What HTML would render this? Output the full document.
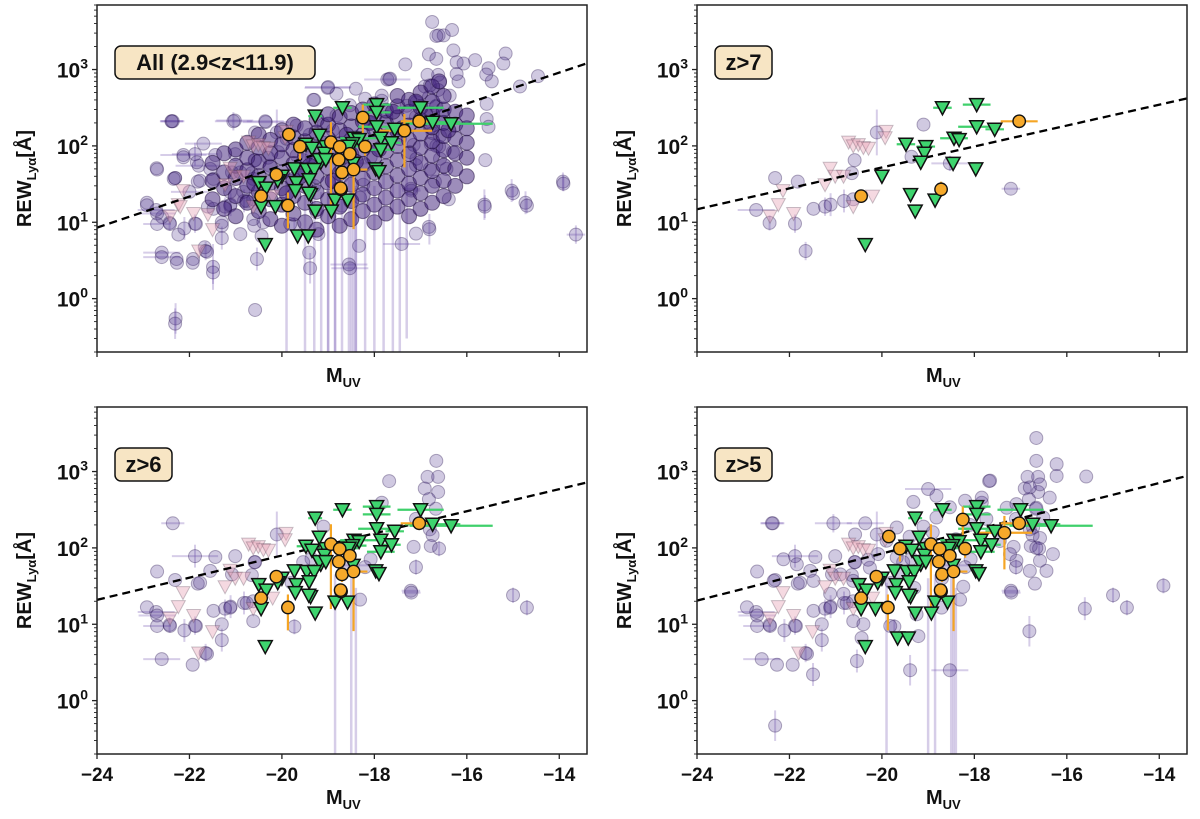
<!DOCTYPE html>
<html><head><meta charset="utf-8">
<style>
html,body{margin:0;padding:0;background:#fff;}
svg{display:block;font-family:"Liberation Sans","DejaVu Sans",sans-serif;}
</style></head>
<body>
<svg id="chart" width="1200" height="819" viewBox="0 0 1200 819" xmlns="http://www.w3.org/2000/svg"></svg>
<script>
// ---------------- DATA ----------------
const panelLabels = ["All (2.9<z<11.9)", "z>7", "z>6", "z>5"];
const panelZmin = [0, 7, 6, 5];
const fitIntercept = [0.93, 1.17, 1.32, 1.31];   // log10 EW at M=-24
const fitSlope = [0.203, 0.137, 0.145, 0.154];    // dex per mag
const xTicks = [-24, -22, -20, -18, -16, -14];
const yDecades = [0, 1, 2, 3];

// purple detections: [M, EW, z, xerr(mag), yerr(dex)]
const purpleLo = [
[-21.5,20,4],[-21.5,35,4],[-21.5,60,4],
[-21.25,15,4],[-21.25,28,4],[-21.25,45,4],[-21.25,80,4],
[-21.0,12,4],[-21.0,22,4],[-21.0,38,4],[-21.0,55,4],[-21.0,90,4],
[-20.75,18,4],[-20.75,30,4],[-20.75,48,4],[-20.75,70,4],[-20.75,110,4],
[-20.5,14,4],[-20.5,25,4],[-20.5,40,4],[-20.5,62,4],[-20.5,95,4],[-20.5,140,4],
[-20.25,11,4],[-20.25,20,4],[-20.25,33,4],[-20.25,52,4],[-20.25,80,4],[-20.25,120,4],
[-20.0,9,4],[-20.0,17,4],[-20.0,28,4],[-20.0,45,4],[-20.0,70,4],[-20.0,105,4],[-20.0,160,4],
[-19.75,13,4],[-19.75,22,4],[-19.75,36,4],[-19.75,58,4],[-19.75,88,4],[-19.75,130,4],[-19.75,190,4],
[-19.5,10,4],[-19.5,18,4],[-19.5,30,4],[-19.5,48,4],[-19.5,75,4],[-19.5,115,4],[-19.5,170,4],
[-19.25,8,4],[-19.25,15,4],[-19.25,25,4],[-19.25,40,4],[-19.25,62,4],[-19.25,95,4],[-19.25,150,4],[-19.25,220,4],
[-19.0,12,4],[-19.0,20,4],[-19.0,33,4],[-19.0,52,4],[-19.0,80,4],[-19.0,125,4],[-19.0,190,4],[-19.0,260,4],
[-18.75,9,4],[-18.75,16,4],[-18.75,27,4],[-18.75,44,4],[-18.75,68,4],[-18.75,105,4],[-18.75,160,4],[-18.75,240,4],
[-18.5,11,4],[-18.5,19,4],[-18.5,31,4],[-18.5,50,4],[-18.5,78,4],[-18.5,120,4],[-18.5,180,4],[-18.5,270,4],
[-18.25,14,4],[-18.25,23,4],[-18.25,37,4],[-18.25,58,4],[-18.25,90,4],[-18.25,140,4],[-18.25,210,4],[-18.25,300,4],
[-18.0,10,4],[-18.0,17,4],[-18.0,28,4],[-18.0,45,4],[-18.0,70,4],[-18.0,108,4],[-18.0,165,4],[-18.0,250,4],[-18.0,350,4],
[-17.75,13,4],[-17.75,21,4],[-17.75,34,4],[-17.75,54,4],[-17.75,85,4],[-17.75,130,4],[-17.75,200,4],[-17.75,290,4],
[-17.5,16,4],[-17.5,26,4],[-17.5,41,4],[-17.5,65,4],[-17.5,100,4],[-17.5,155,4],[-17.5,235,4],[-17.5,330,4],[-17.5,450,4],
[-17.25,12,4],[-17.25,20,4],[-17.25,32,4],[-17.25,50,4],[-17.25,78,4],[-17.25,120,4],[-17.25,185,4],[-17.25,280,4],[-17.25,400,4],
[-17.0,15,4],[-17.0,24,4],[-17.0,38,4],[-17.0,60,4],[-17.0,95,4],[-17.0,145,4],[-17.0,220,4],[-17.0,320,4],[-17.0,500,4],
[-16.75,18,4],[-16.75,30,4],[-16.75,47,4],[-16.75,75,4],[-16.75,115,4],[-16.75,175,4],[-16.75,260,4],[-16.75,380,4],[-16.75,600,4],
[-16.5,22,4],[-16.5,35,4],[-16.5,55,4],[-16.5,88,4],[-16.5,135,4],[-16.5,200,4],[-16.5,300,4],[-16.5,450,4],
[-16.25,30,4],[-16.25,50,4],[-16.25,80,4],[-16.25,125,4],[-16.25,190,4],[-16.25,280,4],
[-16.0,40,4],[-16.0,70,4],[-16.0,110,4],[-16.0,170,4],[-16.0,250,4],
[-19.9,24,4],[-19.6,40,4],[-19.1,70,4],[-18.6,140,4],[-18.1,200,4],[-17.6,280,4],[-17.1,380,4],[-16.6,700,4],
[-20.6,32,4],[-19.4,55,4],[-18.9,35,4],[-18.4,62,4],[-17.9,90,4],[-17.4,170,4],[-16.9,260,4],[-16.4,160,4],
[-22.39,210,4,0.25,0],[-21.02,215,4,0.4,0],[-20.35,205,4,0.5,0],[-22.71,51,4],[-22.31,38,4],
[-21.70,107,4,0.4,0],[-22.13,76,4,0.5,0],[-22.92,18,4],[-22.59,11.7,4],[-22.24,6.9,4],
[-22.60,4.0,4,0.4,0],[-22.28,3.3,4],[-21.92,3.3,4],[-21.67,4.7,4],[-21.49,2.6,4,0,0.3],
[-22.30,0.55,4,0,0.2],[-20.58,0.71,4],[-19.41,4.0,4],[-18.55,2.8,4,0.4,0],[-18.33,4.9,4],
[-17.41,5.2,4,0.4,0],[-17.10,7.1,4],[-16.82,8.7,4],[-15.62,17,4,0,0.2],[-15.03,26,4,0,0.15],
[-14.73,18,4,0,0.15],[-13.92,34,4,0,0.12],[-13.64,6.9,4,0.2,0.12],[-15.60,65,4],[-16.39,20,4],
[-16.75,4200,4],[-16.61,2800,4],[-16.50,2800,4],[-16.32,3300,4],[-16.82,1580,4],[-16.29,1780,4],
[-15.16,1620,4],[-15.21,1200,4],[-17.33,1170,4],[-15.53,1040,4],[-14.46,820,4],[-14.85,600,4],
[-15.46,700,4],[-15.57,355,4],[-15.57,225,4],[-15.53,178,4],[-17.72,740,4,0.5,0],[-18.40,560,4],
[-19.01,575,4,0.5,0],[-19.30,400,4],[-16.07,1200,4],[-15.82,1330,4],[-16.18,700,4],
[-21.8,55,4,0.5,0],[-22.0,25,4,0.4,0],[-21.6,16,4],[-21.3,9,4],[-20.9,7,4],[-20.6,9,4]
];
const purpleHi = [
[-22.31,38,7.5],[-21.82,34,7.5],[-22.72,14.5,7.5,0.4,0],[-22.43,9.8,7.5,0,0.1],[-21.88,9.6,7.5,0,0.12],
[-21.65,4.2,7.5,0,0.12],[-21.48,15,7.5],[-21.23,16,7.5,0,0.12],[-21.11,17,7.5,0,0.15],[-20.82,19,7.5,0,0.15],
[-20.62,20,7.5],[-20.59,65,7.5],[-20.65,44,7.5],[-20.11,150,7.5,0,0.3],[-19.10,190,7.5],
[-19.36,72,7.5],[-18.53,59,7.5,0.4,0.1],[-17.21,27.5,7.5,0.2,0],
[-22.36,210,6.5,0.25,0],[-22.70,49,6.5],[-21.88,78,6.5,0.5,0.15],[-21.44,76,6.5],[-21.01,78,6.5],
[-17.68,750,6.5],[-17.84,390,6.5],[-16.66,1380,6.5],[-16.85,850,6.5],[-16.62,850,6.5],[-16.91,600,6.5],
[-16.62,540,6.5],[-16.82,435,6.5],[-16.67,325,6.5],[-17.10,240,6.5],[-16.80,175,6.5],[-16.74,147,6.5],
[-17.15,103,6.5],[-16.78,106,6.5],[-16.60,98,6.5,0,0.1],[-17.10,56,6.5,0,0.1],[-17.20,26,6.5,0.2,0],
[-15.0,24,6.5,0,0.1],[-14.70,16.5,6.5,0,0.1],[-18.08,71,6.5],[-18.20,56,6.5],[-18.31,21,6.5],
[-19.73,9.3,6.5,0,0.1],[-19.79,35,6.5],[-20.62,11,6.5],[-20.76,19,6.5],[-21.12,16.5,6.5],
[-21.30,10,6.5],[-21.30,6.2,6.5,0,0.15],[-21.62,4.1,6.5],[-21.93,2.95,6.5],[-22.60,3.5,6.5,0.4,0],
[-22.92,16.7,6.5],[-22.70,13,6.5,0.4,0],[-22.70,9.5,6.5,0.3,0],[-22.42,9.5,6.5],[-22.11,8.3,6.5,0,0.15],
[-21.86,9.5,6.5],[-21.77,35,6.5],[-21.55,50,6.5],[-21.08,45,6.5],[-20.58,65,6.5],[-19.54,65,6.5],
[-16.66,2750,5.5],[-16.22,1250,5.5],[-16.22,875,5.5],[-15.58,860,5.5],[-16.58,680,5.5],[-16.80,620,5.5],
[-16.37,455,5.5],[-16.66,335,5.5],[-16.51,250,5.5],[-16.73,185,5.5],[-16.58,135,5.5],[-16.66,100,5.5],
[-16.30,83,5.5],[-16.58,68,5.5],[-16.80,50,5.5],[-16.44,50,5.5],[-16.69,34,5.5],[-17.09,68,5.5],
[-17.23,83,5.5],[-17.45,123,5.5],[-17.74,240,5.5],[-17.30,335,5.5],[-17.09,375,5.5],[-17.66,760,5.5],
[-17.84,455,5.5],[-18.20,415,5.5],[-18.53,340,5.5],[-18.82,250,5.5],[-19.0,590,5.5,0.5,0],[-19.32,400,5.5],
[-19.68,185,5.5],[-19.90,124,5.5],[-20.08,83,5.5],[-19.68,75,5.5],[-20.26,55,5.5],[-20.62,37,5.5],
[-20.83,25,5.5],[-21.12,25,5.5],[-21.48,37,5.5],[-21.84,61,5.5],[-22.13,71,5.5],[-22.34,37,5.5],
[-22.38,210,5.5,0.25,0],[-21.05,210,5.5,0.4,0.12],[-20.36,210,5.5,0.4,0],[-20.58,150,5.5],[-18.82,480,5.5],
[-18.71,16.5,5.5],[-19.25,13.5,5.5],[-19.82,9.5,5.5],[-20.40,10,5.5],[-20.44,6.6,5.5],[-20.54,3.3,5.5,0,0.15],
[-19.39,2.5,5.5,0,0.2],[-19.21,7,5.5],[-18.53,2.5,5.5,0.4,0],[-16.81,8.1,5.5,0,0.2],[-15.61,16,5.5,0,0.15],
[-13.91,32,5.5,0,0.1],[-22.31,0.47,5.5,0,0.2],[-21.49,2.2,5.5,0,0.15],[-22.27,2.95,5.5],[-18.24,31,5.5],
[-19.1,110,5.5],[-18.9,160,5.5],[-18.6,90,5.5],[-18.4,130,5.5],[-19.4,140,5.5],[-18.1,200,5.5],
[-19.6,45,5.5],[-19.3,30,5.5],[-18.7,40,5.5],[-20.3,70,5.5],[-20.9,45,5.5]
];
const purpleLongErr = [
[-19.5,30,0.2,4],[-19.3,45,0.2,4],[-19.15,25,0.2,4],[-19.0,40,0.2,4],[-18.85,60,0.2,4],[-18.7,35,0.2,4],
[-18.55,50,0.2,4],[-18.4,28,0.2,4],[-18.2,45,0.2,4],[-18.0,30,0.2,4],[-17.8,55,0.2,4],[-17.6,40,0.2,4],
[-17.45,32,0.2,4],[-17.3,60,0.3,4],[-19.9,35,0.2,5.5],[-19.0,40,0.2,5.5],[-18.45,38,0.2,5.5],
[-18.85,45,0.2,6.5],[-18.5,40,0.2,6.5],[-18.4,30,0.2,6.5]
];
const pinkLimits = [
[-20.72,112,7.5],[-20.62,100,7.5],[-20.51,104,7.5],[-20.40,95,7.5],[-20.29,93,7.5],[-19.91,155,7.5],
[-19.93,128,7.5],[-21.12,51,7.5],[-21.01,40,7.5],[-20.83,40,7.5],[-21.23,31,7.5],[-22.14,26,7.5],
[-22.24,17,7.5],[-21.91,13,7.5],[-22.42,12,7.5],[-20.2,22,7.5],[-20.62,16,7.5],[-21.5,8,6.5],
[-21.8,4.2,6.5],[-21.6,12.6,4],[-22.2,16,4]
];
const greenLimits = [
[-18.69,316,7.5,0.2],[-17.95,347,7.5,0.3],[-17.95,178,7.5,0.4],[-17.56,165,7.5,0.2],[-19.48,105,7.5,0.2],
[-19.05,98,7.5,0.2],[-19.08,80,7.5,0],[-18.44,126,7.5,0.3],[-18.33,121,7.5,0],[-19.16,61,7.5,0],
[-18.46,59,7.5,0],[-17.97,50,7.5,0],[-20.0,40,7.5,0],[-19.38,23,7.5,0],[-19.28,14,7.5,0],
[-18.85,19.5,7.5,0],[-20.36,5.1,7.5,0],
[-17.95,275,6.5,0.3],[-19.28,245,6.5,0.15],[-17.0,316,6.5,0.5],[-16.74,204,6.5,0.6],[-16.34,195,6.5,0.9],
[-19.19,138,6.5,0],[-17.86,126,6.5,0.3],[-17.63,110,6.5,0.2],[-19.35,93,6.5,0],[-17.86,89,6.5,0.3],
[-19.19,66,6.5,0],[-19.05,66,6.5,0],[-19.73,50,6.5,0],[-19.46,49,6.5,0],[-19.30,49,6.5,0],
[-19.41,36,6.5,0],[-20.5,33,6.5,0],[-20.09,35,6.5,0],[-19.69,33,6.5,0],[-20.34,28,6.5,0],
[-19.71,26,6.5,0],[-19.42,24,6.5,0],[-17.90,46,6.5,0],[-18.58,19.5,6.5,0],[-20.45,16,6.5,0],
[-18.47,107,6.5,0.3],[-18.55,99,6.5,0.2],
[-20.14,16,5.5,0],[-19.66,6.6,5.5,0],[-19.43,6.6,5.5,0],[-18.93,14,5.5,0]
];
const orangeDet = [
[-20.45,22,7.5,0,0.05,0.05],[-18.72,27,7.5,0,0.1,0.1],[-17.03,210,7.5,0.4,0.03,0.03],
[-20.12,42,6.5,0,0.05,0.05],[-19.87,16.6,6.5,0,0.3,0.17],[-18.94,112,6.5,0,0.85,0.26],
[-18.75,97,6.5,0,0.05,0.05],[-18.53,79,6.5,0,0.1,0.1],[-18.77,66,6.5,0,0.08,0.08],
[-18.70,45,6.5,0,0.1,0.1],[-18.45,49,6.5,0.3,0.78,0.1],[-18.73,28,6.5,0,0.1,0.05],
[-19.85,141,5.5,0,0.03,0.03],[-19.61,98,5.5,0,0.17,0.11],[-18.25,235,5.5,0.15,0.3,0.17],
[-18.20,98,5.5,0,0.12,0.05],[-17.35,158,5.5,0.6,0.48,0.22]
];
const blobCount = 178; // first entries of purpleLo form the dense low-z cloud

// ---------------- RENDER ----------------
const NS = "http://www.w3.org/2000/svg";
const svg = document.getElementById("chart");
const XMIN = -24, XMAX = -13.4, LMIN = Math.log10(0.2), LMAX = Math.log10(7000);
const panels = [
  {x0:97,y0:5,x1:587,y1:352,xl:false},
  {x0:697,y0:5,x1:1187,y1:352,xl:false},
  {x0:97,y0:407,x1:587,y1:754,xl:true},
  {x0:697,y0:407,x1:1187,y1:754,xl:true}
];
function mk(tag, attrs, parent){
  const e = document.createElementNS(NS, tag);
  for (const k in attrs) e.setAttribute(k, attrs[k]);
  (parent||svg).appendChild(e); return e;
}
function X(p,m){ return p.x0 + (m - XMIN)/(XMAX - XMIN)*(p.x1 - p.x0); }
function Yl(p,l){ return p.y1 - (l - LMIN)/(LMAX - LMIN)*(p.y1 - p.y0); }
function Y(p,ew){ return Yl(p, Math.log10(ew)); }
function tri(cx,cy){ return `M${cx-7},${cy-6} L${cx+7},${cy-6} L${cx},${cy+7} Z`; }

panels.forEach((p, i) => {
  const zmin = panelZmin[i];
  const g = mk("g", {});
  
  
  const cid = "clip" + i;
  const cp = mk("clipPath", {id: cid}, g);
  mk("rect", {x:p.x0, y:p.y0, width:p.x1-p.x0, height:p.y1-p.y0}, cp);
  const plot = mk("g", {"clip-path": `url(#${cid})`}, g);

  const blob = purpleLo.slice(0, blobCount).filter(d => d[2] > zmin);
  const purple = purpleLo.slice(blobCount).concat(purpleHi).filter(d => d[2] > zmin);
  purple.forEach(d => {
    const cx = X(p,d[0]), cy = Y(p,d[1]);
    if (d[3]) { const l = mk("line", {x1:X(p,d[0]-d[3]), x2:X(p,d[0]+d[3]), y1:cy, y2:cy, stroke:"rgba(120,90,180,0.3)", "stroke-width":2}, plot);
        }
    if (d[4]) { const l = mk("line", {x1:cx, x2:cx, y1:Yl(p,Math.log10(d[1])-d[4]), y2:Yl(p,Math.log10(d[1])+d[4]), stroke:"rgba(120,90,180,0.3)", "stroke-width":2}, plot);
        }
  });
  purpleLongErr.filter(d => d[3] > zmin).forEach(d => {
    const cx = X(p,d[0]);
    const l = mk("line", {x1:cx, x2:cx, y1:Y(p,d[2]), y2:Y(p,d[1]), stroke:"rgba(120,90,180,0.3)", "stroke-width":2.5}, plot);
     
  });
  purple.forEach(d => {
    const c = mk("circle", {cx:X(p,d[0]), cy:Y(p,d[1]), r:6.5, fill:"rgba(75,45,140,0.26)", stroke:"rgba(40,20,80,0.35)", "stroke-width":1}, plot);
     
  });
  blob.forEach(d => {
    const c = mk("circle", {cx:X(p,d[0]), cy:Y(p,d[1]), r:7.5, fill:"rgba(60,28,120,0.5)", stroke:"rgba(30,10,60,0.5)", "stroke-width":1}, plot);
     
  });
  pinkLimits.filter(d => d[2] > zmin).forEach(d => {
    const t = mk("path", {d:tri(X(p,d[0]), Y(p,d[1])), fill:"rgba(230,160,180,0.4)", stroke:"rgba(80,60,80,0.3)", "stroke-width":1}, plot);
     
  });
  const fl = mk("line", {x1:X(p,XMIN), x2:X(p,XMAX), y1:Yl(p,fitIntercept[i]), y2:Yl(p,fitIntercept[i]+fitSlope[i]*(XMAX-XMIN)), stroke:"#000", "stroke-width":2.3, "stroke-dasharray":"8,5"}, plot);
   

  const greens = greenLimits.filter(d => d[2] > zmin);
  const oranges = orangeDet.filter(d => d[2] > zmin);
  greens.forEach(d => { if (d[3]) {
    const cy = Y(p,d[1]);
    const l = mk("line", {x1:X(p,d[0]-d[3]), x2:X(p,d[0]+d[3]), y1:cy, y2:cy, stroke:"#3fd06b", "stroke-width":2.2}, plot);
      } });
  oranges.forEach(d => {
    const cx = X(p,d[0]), cy = Y(p,d[1]), lg = Math.log10(d[1]);
    const l = mk("line", {x1:cx, x2:cx, y1:Yl(p,lg-d[4]), y2:Yl(p,lg+d[5]), stroke:"#f5a524", "stroke-width":2.2}, plot);
     
    if (d[3]) { const h = mk("line", {x1:X(p,d[0]-d[3]), x2:X(p,d[0]+d[3]), y1:cy, y2:cy, stroke:"#f5a524", "stroke-width":2.2}, plot);
        }
  });
  greens.forEach(d => {
    const t = mk("path", {d:tri(X(p,d[0]), Y(p,d[1])), fill:"#3ed46e", stroke:"#111", "stroke-width":1.5}, plot);
     
  });
  oranges.forEach(d => {
    const c = mk("circle", {cx:X(p,d[0]), cy:Y(p,d[1]), r:6.2, fill:"#f6a92a", stroke:"#111", "stroke-width":1.4}, plot);
     
  });

  const fr = mk("rect", {x:p.x0, y:p.y0, width:p.x1-p.x0, height:p.y1-p.y0, fill:"none", stroke:"#222", "stroke-width":1.5}, g);
   

  xTicks.forEach(t => {
    const x = X(p,t);
    const tk = mk("line", {x1:x, x2:x, y1:p.y1, y2:p.y1+5, stroke:"#222", "stroke-width":1.3}, g);
     
    if (p.xl) {
      const tx = mk("text", {x:x, y:p.y1+27, "text-anchor":"middle", "font-size":19, "font-weight":"bold", fill:"#111"}, g);
      tx.textContent = (t < 0 ? "\u2212" + Math.abs(t) : String(t));
       
    }
  });
  for (let dcd = -1; dcd <= 3; dcd++) {
    for (let m = 1; m <= 9; m++) {
      const l = dcd + Math.log10(m);
      if (l < LMIN || l > LMAX) continue;
      const y = Yl(p,l);
      const tk = mk("line", {x1:p.x0-(m===1?5:3), x2:p.x0, y1:y, y2:y, stroke:"#222", "stroke-width":m===1?1.3:0.9}, g);
       
    }
  }
  yDecades.forEach(dcd => {
    const y = Yl(p,dcd);
    const tx = mk("text", {x:p.x0-9, y:y+8, "text-anchor":"end", "font-size":21, "font-weight":"bold", fill:"#111"}, g);
     
    tx.appendChild(document.createTextNode("10"));
    const sp = mk("tspan", {dy:-9, "font-size":14}, tx); sp.textContent = String(dcd);
  });
  const cx = (p.x0+p.x1)/2;
  const xt = mk("text", {x:cx-16, y:p.y1 + (p.xl?50:30), "font-size":20, "font-weight":"bold", fill:"#111"}, g);
   
  xt.appendChild(document.createTextNode("M"));
  const xs = mk("tspan", {dy:5, "font-size":13}, xt); xs.textContent = "UV";
  const cy = (p.y0+p.y1)/2;
  const yx = p.x0 - 66;
  const yt = mk("text", {x:yx, y:cy, transform:`rotate(-90 ${yx} ${cy})`, "text-anchor":"middle", "font-size":20, "font-weight":"bold", fill:"#111"}, g);
   
  yt.appendChild(document.createTextNode("REW"));
  const ys = mk("tspan", {dy:5, "font-size":13}, yt); ys.textContent = "Ly\u03b1";
  const ys2 = mk("tspan", {dy:-5}, yt); ys2.textContent = "[\u00c5]";

  const lbl = panelLabels[i];
  const bw = i === 0 ? 200 : 57;
  const bx = p.x0 + 18, by = p.y0 + 41;
  const br = mk("rect", {x:bx, y:by, width:bw, height:33, rx:6, ry:6, fill:"#f7e5c4", stroke:"#111", "stroke-width":1.5}, g);
   
  const lt = mk("text", {x:bx+bw/2, y:by+24, "text-anchor":"middle", "font-size":22, "font-weight":"bold", fill:"#111"}, g);
  lt.textContent = lbl;
   
});
</script>
</body></html>
